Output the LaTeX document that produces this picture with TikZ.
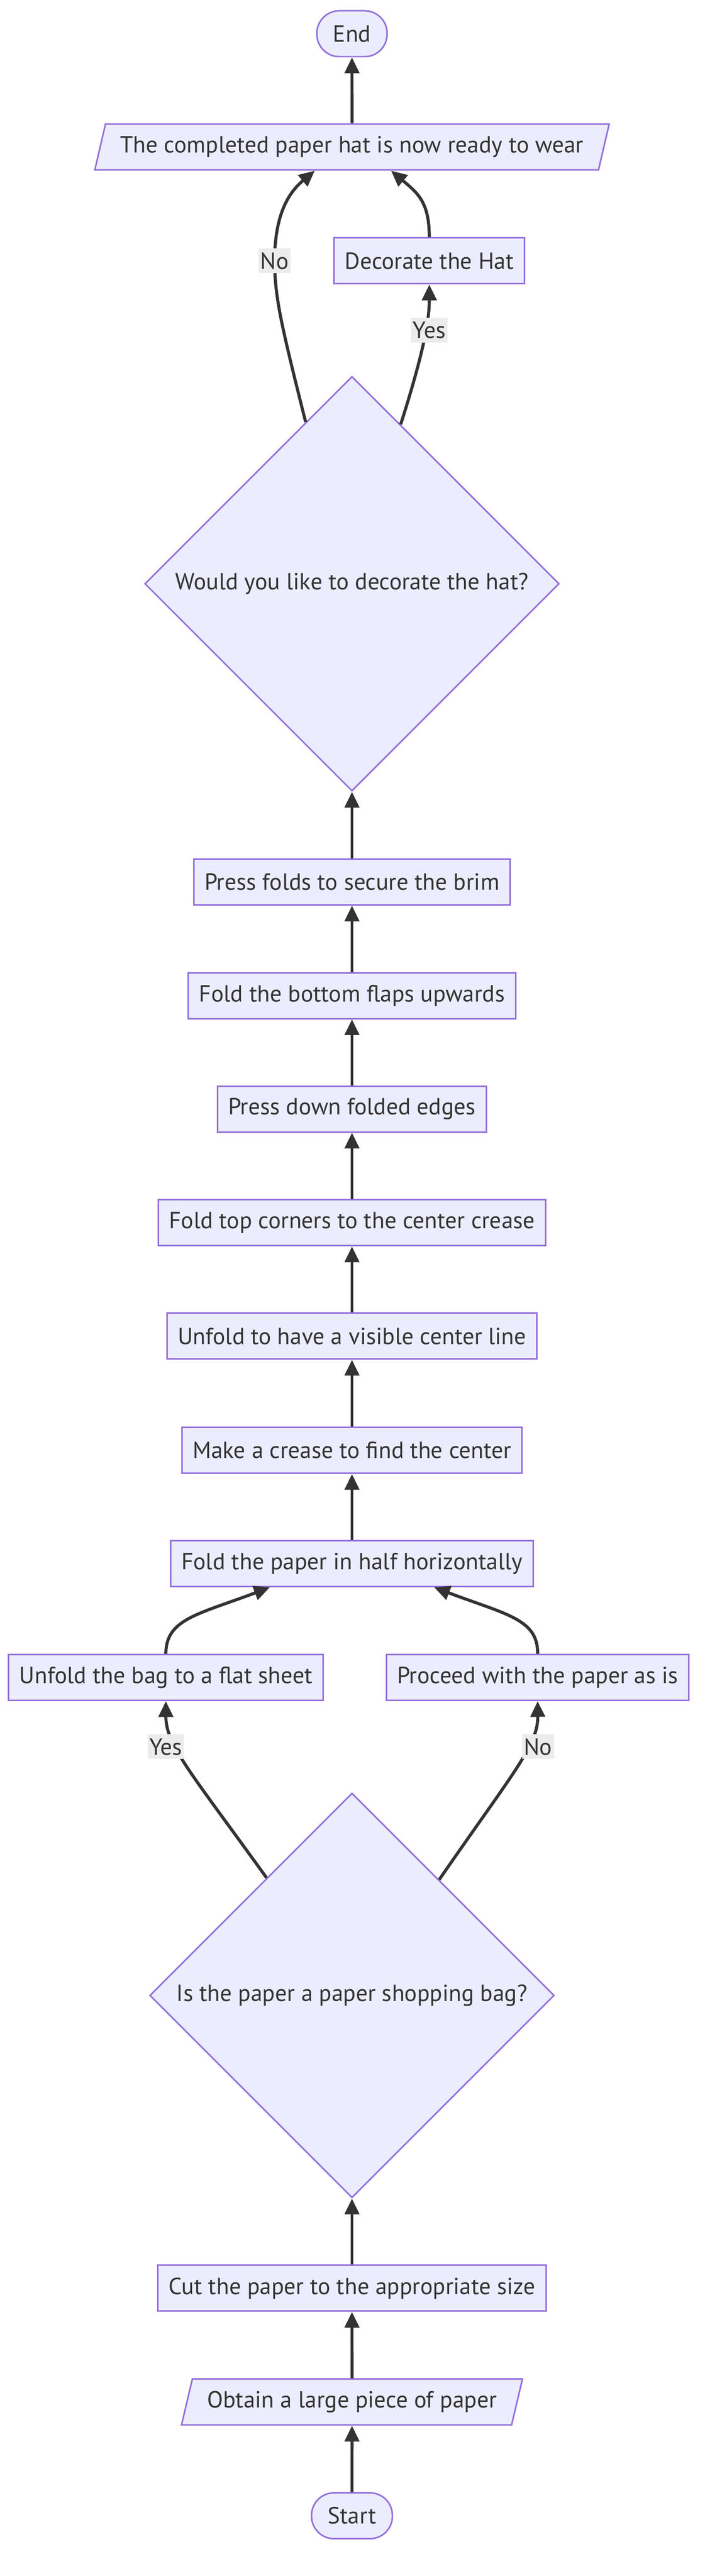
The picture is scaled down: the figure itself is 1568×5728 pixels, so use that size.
\documentclass[tikz,border=0pt]{standalone}
\usepackage{fontspec}
\setmainfont{PT Sans}
\usetikzlibrary{shapes.geometric,arrows.meta}
\definecolor{boxfill}{HTML}{ECECFF}
\definecolor{boxline}{HTML}{9370DB}
\definecolor{inkgray}{HTML}{333333}
\definecolor{labelfill}{HTML}{ECECEC}
\tikzset{
  stepbox/.style={draw=boxline,fill=boxfill,line width=1.7pt,text=inkgray,
                  minimum height=51pt,inner xsep=12pt,inner ysep=0pt},
  iobox/.style={stepbox,trapezium,trapezium left angle=63.4,trapezium right angle=116.6,
                trapezium stretches=true,inner xsep=16.5pt},
  endbox/.style={stepbox,rounded corners=25pt,inner xsep=18pt},
  askbox/.style={stepbox,diamond,aspect=1,inner sep=0pt},
  flow/.style={draw=inkgray,line width=3.4pt,-{Triangle[length=17.5pt,width=16pt]}},
  answer/.style={fill=labelfill,text=inkgray,inner xsep=2pt,inner ysep=0pt,minimum height=27.5pt}
}
\begin{document}
\begin{tikzpicture}[x=0.5pt,y=-0.5pt,font=\fontsize{26}{31}\selectfont]
    \useasboundingbox (0,0) rectangle (1568,5728);
    \node[endbox] (end) at (783,75) {End};
    \node[iobox] (done) at (783,327) {The completed paper hat is now ready to wear};
    \node[stepbox] (decor) at (955,580) {Decorate the Hat};
    \node[askbox,minimum size=461pt] (askdecor) at (783,1298) {Would you like to decorate the hat?};
    \node[stepbox] (brim) at (783,1961) {Press folds to secure the brim};
    \node[stepbox] (flaps) at (783,2214) {Fold the bottom flaps upwards};
    \node[stepbox] (press) at (783,2466) {Press down folded edges};
    \node[stepbox] (corners) at (783,2719) {Fold top corners to the center crease};
    \node[stepbox] (unfoldline) at (783,2971) {Unfold to have a visible center line};
    \node[stepbox] (crease) at (783,3225) {Make a crease to find the center};
    \node[stepbox] (half) at (783,3477) {Fold the paper in half horizontally};
    \node[stepbox] (unfoldbag) at (369,3730) {Unfold the bag to a flat sheet};
    \node[stepbox] (asis) at (1196,3730) {Proceed with the paper as is};
    \node[askbox,minimum size=450pt] (askbag) at (783,4437) {Is the paper a paper shopping bag?};
    \node[stepbox] (cut) at (783,5088) {Cut the paper to the appropriate size};
    \node[iobox] (obtain) at (783,5341) {Obtain a large piece of paper};
    \node[endbox] (start) at (783,5594) {Start};

    \draw[flow] (start) -- (obtain);
    \draw[flow] (obtain) -- (cut);
    \draw[flow] (cut) -- (askbag);
    \draw[flow] (askbag.126.7) .. controls (422,3938) and (369,3880) .. (unfoldbag.south)
        node[answer] (yesbag) at (369,3884) {Yes};
    \draw[flow] (askbag.53.3) .. controls (1144,3938) and (1197,3880) .. (asis.south)
        node[answer] (nobag) at (1197,3884) {No};
    \draw[flow] (unfoldbag.north) .. controls (369,3600) and (440,3590) .. ([xshift=-91.5pt]half.south);
    \draw[flow] (asis.north) .. controls (1197,3600) and (1126,3590) .. ([xshift=91.5pt]half.south);
    \draw[flow] (half) -- (crease);
    \draw[flow] (crease) -- (unfoldline);
    \draw[flow] (unfoldline) -- (corners);
    \draw[flow] (corners) -- (press);
    \draw[flow] (press) -- (flaps);
    \draw[flow] (flaps) -- (brim);
    \draw[flow] (brim) -- (askdecor);
    \draw[flow] (askdecor.106.8) .. controls (625,720) and (611,660) .. (611,580)
        .. controls (611,480) and (640,430) .. ([xshift=-41.5pt]done.south)
        node[answer] (nodecor) at (611,580) {No};
    \draw[flow] (askdecor.73.2) .. controls (950,760) and (955,700) .. (decor.south)
        node[answer] (yesdecor) at (955,734) {Yes};
    \draw[flow] (decor.north) .. controls (955,450) and (930,430) .. ([xshift=43.5pt]done.south);
    \draw[flow] (done) -- (end);
\end{tikzpicture}
\end{document}
